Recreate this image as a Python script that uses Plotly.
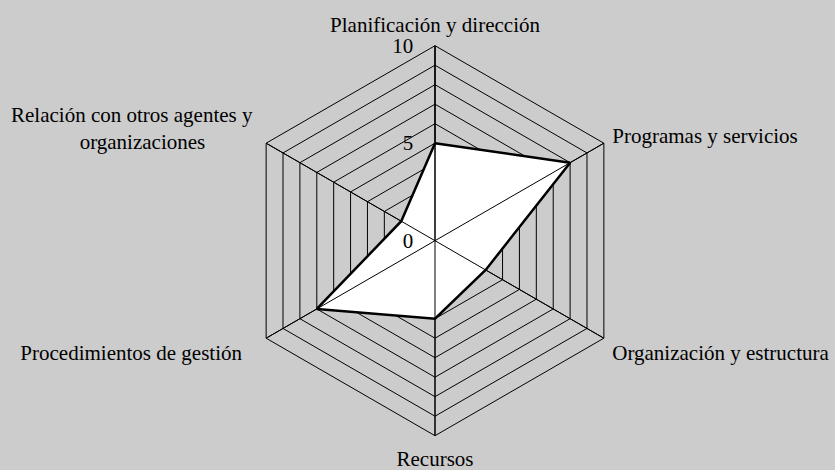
import plotly.graph_objects as go

# Perfil por dimensiones (escala 0-10)
categorias = [
    "Planificación y dirección",
    "Programas y servicios",
    "Organización y estructura",
    "Recursos",
    "Procedimientos de gestión" + "&nbsp;" * 3,
    "Relación con otros agentes y" + "&nbsp;" + "<br>organizaciones" + "&nbsp;" * 10,
]
valores = [5, 8, 3, 4, 7, 2]
escala_max = 10
ticks_radiales = list(range(0, 11))
ticks_texto = ["0", "", "", "", "", "5", "", "", "", "", "10"]

GRIS = "#cccccc"
FUENTE = "Liberation Serif"
TAM = 21

fig = go.Figure()

# area del perfil
fig.add_trace(go.Scatterpolar(
    r=valores + valores[:1],
    theta=categorias + categorias[:1],
    mode="lines",
    fill="toself",
    fillcolor="white",
    line=dict(color="black", width=2.5),
    hoverinfo="skip",
))

# radios que se ven por encima del relleno
r_rad, th_rad = [], []
for c in categorias:
    r_rad += [0, escala_max, None]
    th_rad += [c, c, None]
fig.add_trace(go.Scatterpolar(
    r=r_rad, theta=th_rad, mode="lines",
    line=dict(color="black", width=1),
    hoverinfo="skip", connectgaps=False,
))

fig.update_layout(
    width=835, height=470,
    paper_bgcolor=GRIS,
    plot_bgcolor=GRIS,
    showlegend=False,
    margin=dict(l=0, r=0, t=0, b=0),
    font=dict(family=FUENTE, size=TAM, color="black"),
    polar=dict(
        bgcolor=GRIS,
        gridshape="linear",
        domain=dict(x=[(435 - 300) / 835, (435 + 300) / 835],
                    y=[34.3 / 470, 424.3 / 470]),
        radialaxis=dict(
            range=[0, escala_max],
            tickvals=ticks_radiales,
            ticktext=ticks_texto,
            angle=90,
            tickangle=90,
            side="counterclockwise",
            showline=True, linecolor="black", linewidth=1,
            gridcolor="black", gridwidth=1,
            ticks="outside", ticklen=14, tickcolor="rgba(0,0,0,0)",
            tickfont=dict(family=FUENTE, size=TAM),
        ),
        angularaxis=dict(
            direction="clockwise",
            rotation=90,
            showline=True, linecolor="black", linewidth=1,
            gridcolor="black", gridwidth=1,
            ticks="outside", ticklen=5, tickcolor="rgba(0,0,0,0)",
            tickfont=dict(family=FUENTE, size=TAM),
        ),
    ),
)

# sin margen blanco del navegador alrededor de la figura
fig.write_html("out.html", config={"displayModeBar": False},
               post_script="document.body.style.margin='0';")
